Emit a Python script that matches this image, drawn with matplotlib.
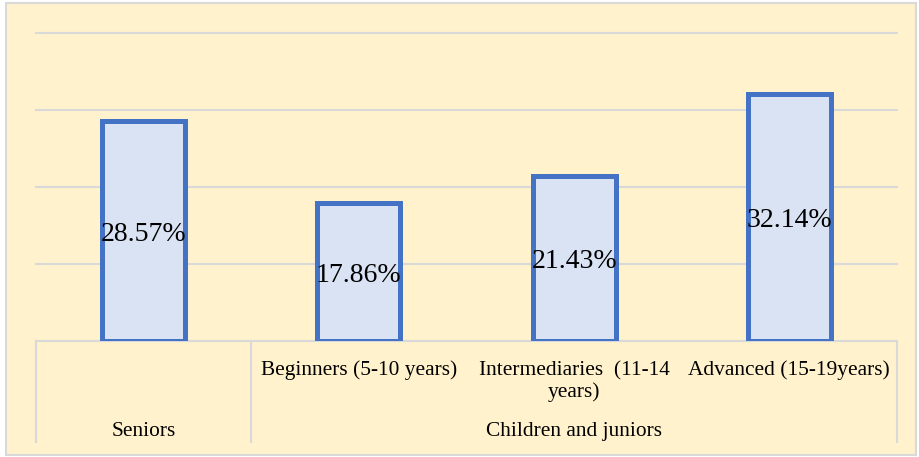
import matplotlib.pyplot as plt
from matplotlib.patches import Rectangle

# data
categories = ["Beginners (5-10 years)", "Intermediaries  (11-14\nyears)", "Advanced (15-19years)"]
groups = ["Seniors", "Children and juniors"]
sub_labels = ["", categories[0], categories[1], categories[2]]
values = [28.57, 17.86, 21.43, 32.14]
value_labels = ["28.57%", "17.86%", "21.43%", "32.14%"]

plt.rcParams['font.family'] = ['Liberation Serif', 'DejaVu Serif']

fig = plt.figure(figsize=(9.2, 4.57), dpi=100)
fig.patch.set_facecolor("white")

# outer frame of the chart area
fig.patches.append(Rectangle((6 / 920, 2 / 457), 910 / 920, 452 / 457,
                             transform=fig.transFigure, facecolor="#FFF2CC",
                             edgecolor="#D9D9D9", linewidth=1.5, zorder=-10))

ax = fig.add_axes([36 / 920, 116 / 457, 861 / 920, 308 / 457])
ax.set_facecolor("none")

x = range(len(values))
ax.bar(x, values, width=0.386, color="#DAE3F3", edgecolor="#4472C4",
       linewidth=3.6, zorder=3)

for i, v in enumerate(values):
    ax.annotate(value_labels[i], (i, v / 2), xytext=(0, -3), textcoords="offset pixels",
                ha="center", va="center", fontsize=20, zorder=4)

ax.set_xlim(-0.5, 3.5)
ax.set_ylim(0, 40)
ax.set_yticks([10, 20, 30, 40])
ax.yaxis.grid(True, color="#D9D9D9", linewidth=1.5)
for gl in ax.get_ygridlines():
    gl.set_clip_on(False)
ax.set_axisbelow(True)
ax.tick_params(left=False, labelleft=False, bottom=False, labelbottom=False)
for s in ["top", "right", "left"]:
    ax.spines[s].set_visible(False)
ax.spines["bottom"].set_color("#D9D9D9")
ax.spines["bottom"].set_linewidth(1.5)

# category separators below the axis
trans = ax.get_xaxis_transform()
for xs in [-0.5, 0.5, 3.5]:
    ax.plot([xs, xs], [0, -101 / 308], color="#D9D9D9", linewidth=1.5,
            transform=trans, clip_on=False)

# second level labels (one text per line, 22 px apart)
for i, lab in enumerate(sub_labels):
    for k, line in enumerate(lab.split("\n")):
        if line:
            ax.text(i, -(34 + 22 * k) / 308, line, ha="center", va="baseline",
                    fontsize=15.4, transform=trans)

# group labels
ax.text(0, -95 / 308, groups[0], ha="center", va="baseline", fontsize=15.4, transform=trans)
ax.text(2, -95 / 308, groups[1], ha="center", va="baseline", fontsize=15.4, transform=trans)

fig.savefig("out.png", dpi=100)
